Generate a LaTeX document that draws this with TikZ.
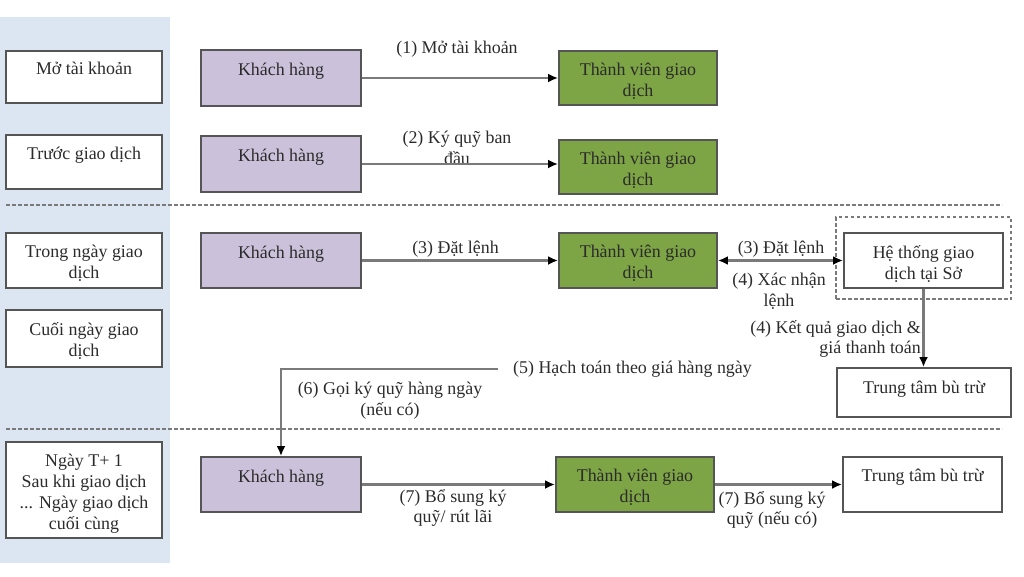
\documentclass[tikz,border=0pt]{standalone}
\usepackage{fontspec}
\setmainfont{Liberation Serif}
\usetikzlibrary{arrows.meta}
\definecolor{panel}{HTML}{DCE6F2}
\definecolor{kh}{HTML}{CCC1DA}
\definecolor{tv}{HTML}{7DA445}
\definecolor{edge}{HTML}{555555}
\definecolor{conn}{HTML}{7A7A7A}
\definecolor{ink}{HTML}{2B2B2B}
\begin{document}
\begin{tikzpicture}[x=1pt,y=-1pt,
  every node/.style={font=\fontsize{17.9}{20.8}\selectfont, text=ink},
  boxbase/.style 2 args={draw=edge, line width=1.9pt, inner sep=0pt, minimum width=#1pt, minimum height=#2pt},
  lbox/.style 2 args={boxbase={#1}{#2}, fill=white},
  khbox/.style 2 args={boxbase={#1}{#2}, fill=kh},
  tvbox/.style 2 args={boxbase={#1}{#2}, fill=tv},
  btxt/.style={anchor=north, inner sep=0pt, align=center, execute at begin node={\rule{0pt}{17pt}}},
  lbl/.style={inner sep=0pt, align=center},
  arr/.style={draw=conn, line width=2.4pt, -{Latex[length=10pt,width=9pt,color=black]}},
  darr/.style={draw=conn, line width=2.4pt, {Latex[length=10pt,width=9pt,color=black]}-{Latex[length=10pt,width=9pt,color=black]}},
  sep/.style={draw=conn, line width=1.3pt, dash pattern=on 3.5pt off 2.5pt},
  dbox/.style={draw=conn, line width=1.8pt, dash pattern=on 3.5pt off 2.5pt, inner sep=0pt}
]
\useasboundingbox (0,0) rectangle (1024,576);
\fill[panel] (0,17) rectangle (170,563);
\draw[sep] (6,205) -- (1002,205);
\draw[sep] (6,429) -- (1002,429);

% left column
\node[lbox={156}{52}] (L1) at (84,77) {};
\node[btxt] (L1t) at ([yshift=-7pt]L1.north) {Mở tài khoản};
\node[lbox={156}{54}] (L2) at (84,162) {};
\node[btxt] (L2t) at ([yshift=-8pt]L2.north) {Trước giao dịch};
\node[lbox={156}{55}] (L3) at (84,260.5) {};
\node[btxt] (L3t) at ([yshift=-13pt]L3.north) {Trong ngày giao\\dịch};
\node[lbox={156}{57}] (L4) at (84,338.5) {};
\node[btxt] (L4t) at ([yshift=-13pt]L4.north) {Cuối ngày giao\\dịch};
\node[lbox={156}{96}] (L5) at (84,490) {};
\node[btxt] (L5t) at ([yshift=-13pt]L5.north) {Ngày T+ 1\\Sau khi giao dịch\\... Ngày giao dịch\\cuối cùng};

% customer boxes
\node[khbox={160}{56}] (K1) at (281,78) {};
\node[btxt] (K1t) at ([yshift=-9pt]K1.north) {Khách hàng};
\node[khbox={160}{56}] (K2) at (281,164) {};
\node[btxt] (K2t) at ([yshift=-9pt]K2.north) {Khách hàng};
\node[khbox={160}{55}] (K3) at (281,260.5) {};
\node[btxt] (K3t) at ([yshift=-9pt]K3.north) {Khách hàng};
\node[khbox={160}{55}] (K5) at (281,484.5) {};
\node[btxt] (K5t) at ([yshift=-9pt]K5.north) {Khách hàng};

% member boxes
\node[tvbox={158}{54}] (G1) at (638,78) {};
\node[btxt] (G1t) at ([yshift=-13pt]G1.north) {Thành viên giao\\dịch};
\node[tvbox={158}{54}] (G2) at (638,167) {};
\node[btxt] (G2t) at ([yshift=-13pt]G2.north) {Thành viên giao\\dịch};
\node[tvbox={158}{55}] (G3) at (638,260.5) {};
\node[btxt] (G3t) at ([yshift=-13pt]G3.north) {Thành viên giao\\dịch};
\node[tvbox={158}{55}] (G5) at (635,484.5) {};
\node[btxt] (G5t) at ([yshift=-13pt]G5.north) {Thành viên giao\\dịch};

% exchange system
\node[dbox, minimum width=175pt, minimum height=82pt] (HB) at (923.5,258) {};
\node[lbox={159}{55}] (HTS) at (923.5,260.5) {};
\node[btxt] (HTSt) at ([yshift=-13pt]HTS.north) {Hệ thống giao\\dịch tại Sở};

% clearing centres
\node[lbox={174}{49}] (TT1) at (924,392.5) {};
\node[btxt] (TT1t) at ([yshift=-9pt]TT1.north) {Trung tâm bù trừ};
\node[lbox={159}{55}] (TT2) at (922.5,484.5) {};
\node[btxt] (TT2t) at ([yshift=-8pt]TT2.north) {Trung tâm bù trừ};

% labels
\node[lbl] (l1) at (457,49) {(1) Mở tài khoản};
\node[lbl] (l2) at (457,148) {(2) Ký quỹ ban\\đầu};
\node[lbl] (l3) at (455.5,249) {(3) Đặt lệnh};
\node[lbl] (l3b) at (781,249) {(3) Đặt lệnh};
\node[lbl] (l4) at (779,291) {(4) Xác nhận\\lệnh};
\node[lbl, anchor=east, align=right] (l4b) at (921,339) {(4) Kết quả giao dịch \&\\giá thanh toán};
\node[lbl] (l5) at (632.5,369) {(5) Hạch toán theo giá hàng ngày};
\node[lbl] (l6) at (390,401) {(6) Gọi ký quỹ hàng ngày\\(nếu có)};
\node[lbl] (l7) at (453,508) {(7) Bổ sung ký\\quỹ/ rút lãi};
\node[lbl] (l7b) at (772,510) {(7) Bổ sung ký\\quỹ (nếu có)};

% connectors
\draw[arr] (K1.east) -- (G1.west);
\draw[arr] (K2.east) -- (K2.east -| G2.west);
\draw[arr] (K3.east) -- (G3.west);
\draw[darr] (G3.east) -- (HTS.west);
\draw[arr] (HTS.south) -- (HTS.south |- TT1.north);
\coordinate (c5) at (498,369);
\draw[arr] (c5) -| (K5.north);
\draw[arr] (K5.east) -- (K5.east -| G5.west);
\draw[arr] (G5.east) -- (G5.east -| TT2.west);
\end{tikzpicture}
\end{document}
